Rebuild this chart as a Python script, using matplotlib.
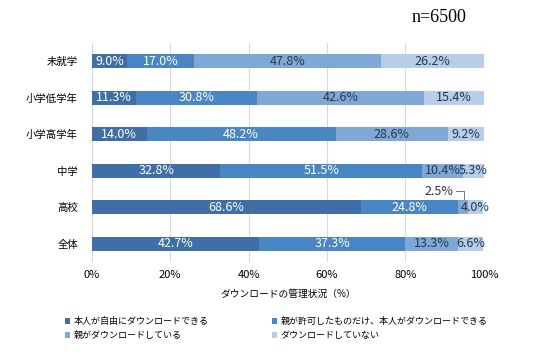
import matplotlib
matplotlib.use('Agg')
import matplotlib.pyplot as plt
import numpy as np

plt.rcParams['font.family'] = ['Noto Sans CJK JP', 'DejaVu Sans']

# カテゴリと各回答の割合（%）
categories = ['未就学', '小学低学年', '小学高学年', '中学', '高校', '全体']
free_dl = [9.0, 11.3, 14.0, 32.8, 68.6, 42.7]
permitted_dl = [17.0, 30.8, 48.2, 51.5, 24.8, 37.3]
parent_dl = [47.8, 42.6, 28.6, 10.4, 2.5, 13.3]
no_dl = [26.2, 15.4, 9.2, 5.3, 4.0, 6.6]
series_names = ['本人が自由にダウンロードできる', '親が許可したものだけ、本人がダウンロードできる',
                '親がダウンロードしている', 'ダウンロードしていない']
xticks = [0, 20, 40, 60, 80, 100]

colors = ['#3F6FA6', '#4A86C4', '#7FA8D7', '#B8CDE9']
text_colors = ['white', 'white', '#25384F', '#25384F']

fig = plt.figure(figsize=(5.4, 3.55), dpi=100)
ax = fig.add_axes([0.170, 0.262, 0.726, 0.617])

y = np.arange(len(categories))
data = [free_dl, permitted_dl, parent_dl, no_dl]
left = np.zeros(len(categories))
handles = []
for vals, c, tc, name in zip(data, colors, text_colors, series_names):
    vals = np.array(vals)
    b = ax.barh(y, vals, left=left, height=0.38, color=c, label=name, zorder=3)
    handles.append(b)
    for i, v in enumerate(vals):
        cx = left[i] + v / 2
        if categories[i] == '高校' and v == 2.5:
            # 小さい値はラベルを上に出して引き出し線
            ax.text(left[i] - 1.2, i - 0.44, f'{v:.1f}%', ha='right', va='center',
                    fontsize=9, color='#333333', zorder=4)
            ax.plot([left[i] - 0.6, left[i] + v / 2 + 0.3, left[i] + v / 2 + 0.3],
                     [i - 0.44, i - 0.44, i - 0.22], color='#777777', lw=0.7, zorder=4)
            continue
        ax.text(cx, i, f'{v:.1f}%', ha='center', va='center', fontsize=9,
                color=tc, zorder=4)
    left += vals

ax.set_xlim(0, 100)
ax.set_ylim(len(categories) - 0.5, -0.5)
ax.set_yticks(y)
ax.set_yticklabels(categories, fontsize=7.5)
ax.set_xticks(xticks)
ax.set_xticklabels([f'{t}%' for t in xticks], fontsize=8)
ax.tick_params(length=0, pad=6)
ax.tick_params(axis='y', pad=10)
ax.xaxis.grid(True, color='#D9D9D9', lw=0.8, zorder=0)
for s in ax.spines.values():
    s.set_visible(False)
ax.set_xlabel('ダウンロードの管理状況（%）', fontsize=7, labelpad=6)

# 凡例は2列（左列：1,3番目、右列：2,4番目）
leg_kw = dict(fontsize=6.5, frameon=False, handlelength=0.6, handleheight=0.6,
              handletextpad=0.4, labelspacing=0.6, borderpad=0)
fig.legend([handles[0], handles[2]], [series_names[0], series_names[2]],
           loc='upper left', bbox_to_anchor=(0.112, 0.12), **leg_kw)
fig.legend([handles[1], handles[3]], [series_names[1], series_names[3]],
           loc='upper left', bbox_to_anchor=(0.495, 0.12), **leg_kw)

fig.text(0.763, 0.950, 'n=6500', fontsize=13, family='Liberation Serif', va='center')

plt.savefig('out.png', dpi=100)
